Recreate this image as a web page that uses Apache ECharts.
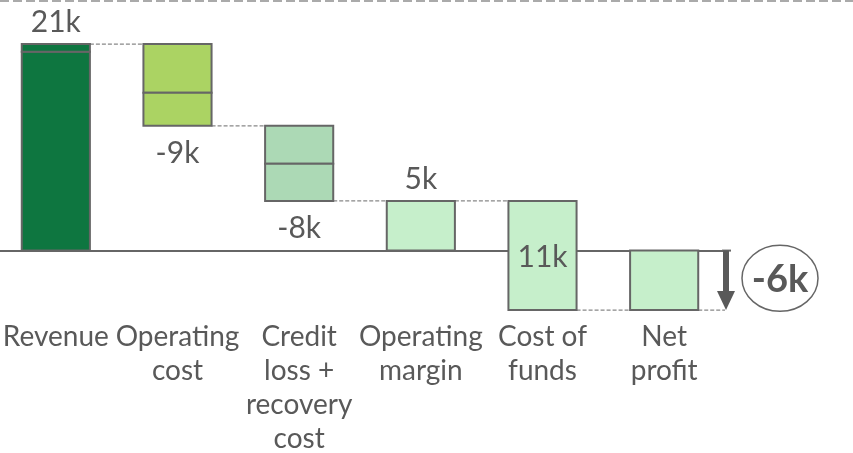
<!DOCTYPE html>
<html>
<head>
<meta charset="utf-8">
<script src="https://cdn.jsdelivr.net/npm/echarts@6/dist/echarts.min.js"></script>
<style>
	html, body { margin: 0; padding: 0; background: #fff; }
	#chart-1 { width: 853px; height: 453px; }
</style>
</head>
<body>
<div id="chart-1"></div>
<script>
// waterfall, values in thousands
var categories = ['Revenue', 'Operating\ncost', 'Credit\nloss +\nrecovery\ncost', 'Operating\nmargin', 'Cost of\nfunds', 'Net\nprofit'];
var steps = [[20.4, 0.8], [-5.0, -3.4], [-3.9, -3.8], [5.1], [-11.2], [-6.1]];
var fromZero = [true, false, false, true, false, true];
var valueLabels = ['21k', '-9k', '-8k', '5k', '11k', ''];
var netLabel = '-6k';
var barColors = ['#0e7640', '#abd363', '#acd9b5', '#c6efcb', '#c6efcb', '#c6efcb'];
var labelPos = ['top', 'bottom', 'bottom', 'top', 'zero', 'none'];

var FONT = 'Lato';
var TEXT = '#595959';
var EDGE = '#666666';
var BAR_W = 0.56;

var segments = [], starts = [], ends = [];
var level = 0;
steps.forEach(function(parts, i) {
	var y = fromZero[i] ? 0 : level;
	starts.push(y);
	parts.forEach(function(p) {
		segments.push([i, y, y + p]);
		y += p;
	});
	level = y;
	ends.push(y);
});

var connectors = ends.map(function(v, i) { return [i, v]; });
var labelData = valueLabels.map(function(t, i) {
	var anchor = labelPos[i] === 'top' ? Math.max(starts[i], ends[i])
		: labelPos[i] === 'bottom' ? Math.min(starts[i], ends[i]) : 0;
	return [i, anchor, t, labelPos[i]];
});
var last = categories.length - 1;

var myChart = echarts.init(document.getElementById('chart-1'));

var option = {
	animation: false,
	grid: { left: -5, width: 730, top: 7, height: 304, outerBoundsMode: 'none', containLabel: false },
	xAxis: {
		type: 'category',
		data: categories,
		axisLine: { onZero: true, lineStyle: { color: EDGE, width: 2 } },
		axisTick: { show: false },
		axisLabel: {
			interval: 0,
			margin: 9,
			color: TEXT,
			fontFamily: FONT,
			fontSize: 28,
			lineHeight: 34
		}
	},
	yAxis: {
		type: 'value',
		min: -6.2,
		max: 25,
		show: false,
		splitLine: { show: false }
	},
	graphic: [{
		type: 'line',
		shape: { x1: 0, y1: 1, x2: 853, y2: 1 },
		style: { stroke: '#aaaaaa', lineWidth: 2, lineDash: [9, 4] }
	}],
	series: [{
		// dashed links between steps
		type: 'custom',
		z: 1,
		data: connectors,
		renderItem: function(params, api) {
			var i = api.value(0);
			var band = api.size([1, 0])[0];
			var p = api.coord([i, api.value(1)]);
			var x1 = p[0] + band * BAR_W / 2;
			var x2 = i < last ? p[0] + band - band * BAR_W / 2 : p[0] + band / 2;
			return {
				type: 'line',
				shape: { x1: x1, y1: p[1], x2: x2, y2: p[1] },
				style: { stroke: '#888888', lineWidth: 1.2, lineDash: [4, 2] }
			};
		}
	}, {
		type: 'custom',
		z: 3,
		data: segments,
		renderItem: function(params, api) {
			var i = api.value(0);
			var band = api.size([1, 0])[0];
			var a = api.coord([i, api.value(1)]);
			var b = api.coord([i, api.value(2)]);
			var w = band * BAR_W;
			return {
				type: 'rect',
				shape: { x: a[0] - w / 2, y: Math.min(a[1], b[1]), width: w, height: Math.abs(a[1] - b[1]) },
				style: { fill: barColors[i], stroke: EDGE, lineWidth: 2 }
			};
		}
	}, {
		type: 'custom',
		z: 4,
		data: labelData,
		renderItem: function(params, api) {
			var d = labelData[params.dataIndex];
			if (d[3] === 'none') return;
			var p = api.coord([d[0], d[1]]);
			var dy = d[3] === 'top' ? -22 : d[3] === 'bottom' ? 27 : 7;
			return {
				type: 'text',
				style: {
					text: d[2], x: p[0], y: p[1] + dy,
					textAlign: 'center', textVerticalAlign: 'middle',
					align: 'center', verticalAlign: 'middle',
					fill: TEXT, font: '30px ' + FONT
				}
			};
		}
	}, {
		// net result arrow with the circled total
		type: 'custom',
		z: 5,
		data: [[last, 0, ends[last]]],
		renderItem: function(params, api) {
			var band = api.size([1, 0])[0];
			var top = api.coord([api.value(0), api.value(1)]);
			var bot = api.coord([api.value(0), api.value(2)]);
			var x = top[0] + band / 2 + 1;
			var cy = (top[1] + bot[1]) / 2 - 2;
			return {
				type: 'group',
				children: [{
					type: 'line',
					shape: { x1: x - 4, y1: top[1], x2: x + 5, y2: top[1] },
					style: { stroke: EDGE, lineWidth: 2 }
				}, {
					type: 'line',
					shape: { x1: x, y1: top[1], x2: x, y2: bot[1] - 16 },
					style: { stroke: TEXT, lineWidth: 6 }
				}, {
					type: 'polygon',
					shape: { points: [[x - 9, bot[1] - 19], [x + 9, bot[1] - 19], [x, bot[1]]] },
					style: { fill: TEXT }
				}, {
					type: 'ellipse',
					shape: { cx: x + 54, cy: cy, rx: 38, ry: 33 },
					style: { fill: 'none', stroke: EDGE, lineWidth: 1.5 }
				}, {
					type: 'text',
					style: {
						text: netLabel, x: x + 54, y: cy + 1,
						textAlign: 'center', textVerticalAlign: 'middle',
						align: 'center', verticalAlign: 'middle',
						fill: TEXT, font: 'bold 38px ' + FONT
					}
				}]
			};
		}
	}]
};

myChart.setOption(option);
</script>
</body>
</html>
